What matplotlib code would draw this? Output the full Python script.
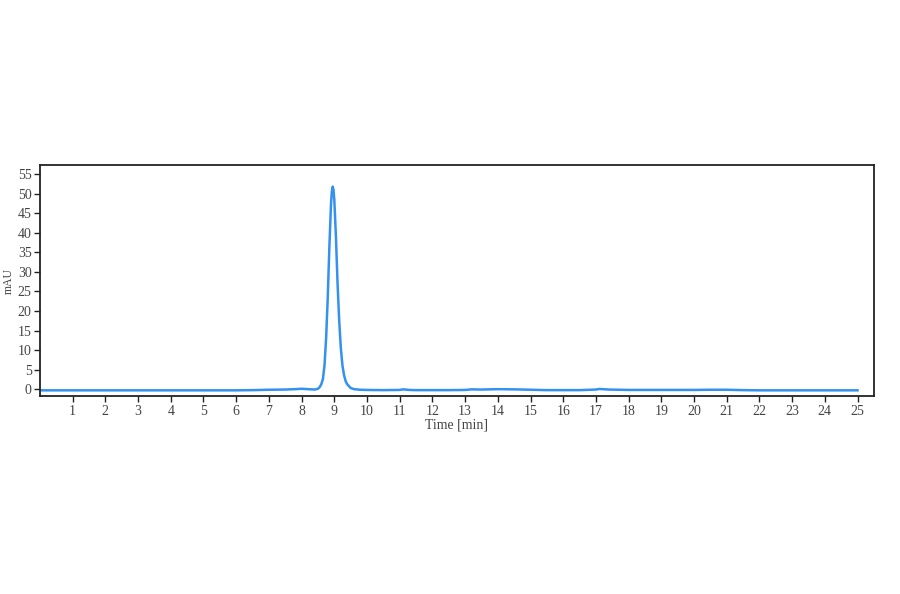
import matplotlib
matplotlib.use("Agg")
import matplotlib.pyplot as plt

# chromatogram points
time_min = [0.0, 1.0, 2.0, 3.0, 4.0, 5.0, 6.0, 6.5, 7.0, 7.5, 7.8, 8.0, 8.2, 8.4,
            8.5, 8.55, 8.6, 8.65, 8.7, 8.75, 8.8, 8.85, 8.9, 8.925, 8.95, 8.975,
            9.0, 9.05, 9.1, 9.15, 9.2, 9.25, 9.3, 9.35, 9.4, 9.5, 9.6, 9.8,
            10.0, 10.5, 11.0, 11.1, 11.3, 11.5, 12.0, 12.5, 13.0, 13.2, 13.5,
            14.0, 14.5, 15.0, 15.5, 16.0, 16.5, 17.0, 17.1, 17.4, 18.0, 19.0,
            20.0, 20.5, 21.0, 21.5, 22.0, 23.0, 24.0, 25.0]
mau = [-0.3, -0.3, -0.3, -0.3, -0.3, -0.3, -0.3, -0.25, -0.15, -0.1, 0.0, 0.1,
       0.0, -0.1, 0.1, 0.5, 1.2, 2.5, 6.0, 13.0, 23.5, 36.5, 47.5, 50.5, 51.8,
       51.0, 48.5, 39.0, 27.0, 17.5, 10.5, 6.0, 3.5, 2.0, 1.2, 0.3, 0.0, -0.15,
       -0.2, -0.25, -0.2, -0.05, -0.2, -0.25, -0.25, -0.25, -0.2, -0.05, -0.1,
       0.0, -0.05, -0.15, -0.25, -0.25, -0.25, -0.1, 0.05, -0.1, -0.2, -0.2,
       -0.2, -0.15, -0.15, -0.25, -0.3, -0.3, -0.3, -0.3]

x_ticks = list(range(1, 26))
y_ticks = list(range(0, 56, 5))

plt.rcParams['font.family'] = ['Liberation Serif', 'DejaVu Serif']

fig = plt.figure(figsize=(9, 5.94), dpi=100)
ax = fig.add_axes([0.0444, 0.333, 0.9266, 0.389])
ax.plot(time_min, mau, color='#3391f0', linewidth=1.8)

ax.set_xlim(0, 25.5)
ax.set_ylim(-1.8, 57.3)
ax.set_xticks(x_ticks)
ax.set_yticks(y_ticks)
ax.tick_params(direction='out', length=4, width=1, labelsize=10,
               colors='#222222', labelcolor='#444444', pad=2)
for s in ax.spines.values():
    s.set_linewidth(1.3)
    s.set_color('#222222')

ax.set_xlabel('Time [min]', fontsize=10, color='#444444', labelpad=1)
ax.set_ylabel('mAU', fontsize=8.5, color='#444444', labelpad=2)

fig.savefig('out.png', dpi=100)
